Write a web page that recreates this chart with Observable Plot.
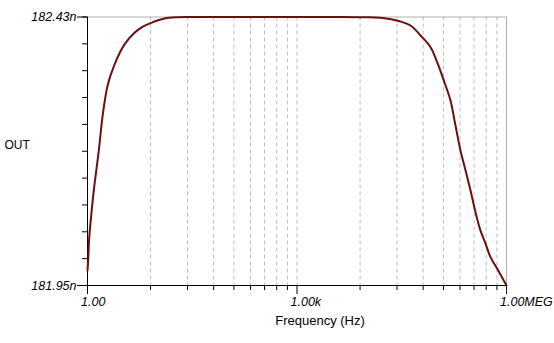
<!DOCTYPE html>
<html><head><meta charset="utf-8">
<script src="https://cdn.jsdelivr.net/npm/d3@7"></script>
<script src="https://cdn.jsdelivr.net/npm/@observablehq/plot@0.6"></script>
<style>body{margin:0;background:#fff}</style>
</head><body><div id="chart"></div>
<script>
// Frequency (Hz) and OUT (n units)
const freq = [1, 1.023, 1.051, 1.079, 1.231, 1.451, 1.656, 1.953, 2.436, 3.388, 4.71, 6.13, 8.17, 12.67, 19.6, 30, 216, 4200, 8960, 15700, 30350, 42250, 58750, 81700, 101900, 126600, 157800, 180200, 219600, 259000, 305300, 359800, 424500, 500900, 590400, 736600, 1000000];
const out = [181.977, 181.995, 182.030, 182.048, 182.120, 182.191, 182.256, 182.309, 182.345, 182.381, 182.402, 182.4125, 182.4196, 182.4273, 182.4296, 182.43, 182.43, 182.43, 182.4295, 182.4286, 182.422, 182.4148, 182.397, 182.376, 182.349, 182.3165, 182.2807, 182.245, 182.191, 182.156, 182.12, 182.081, 182.048, 182.025, 182.0006, 181.980, 181.95];

const xMajor = [1, 1e3, 1e6];
const xMajorLabels = ["1.00", "1.00k", "1.00MEG"];
const xMinor = [8, 27, 64, 125, 216, 343, 512, 729, 8000, 27000, 64000, 125000, 216000, 343000, 512000, 729000];
const xGrid = [8, 27, 64, 125, 216, 343, 512, 729, 1000, 8000, 27000, 64000, 125000, 216000, 343000, 512000, 729000];
const yDomain = [181.95, 182.43];
const yLabels = ["181.95n", "182.43n"];
const yMinor = [181.95, 181.998, 182.046, 182.094, 182.142, 182.19, 182.238, 182.286, 182.334, 182.382, 182.43];
const xTitle = "Frequency (Hz)";
const yTitle = "OUT";

const data = freq.map((f, i) => ({f, v: out[i]}));
const blank = () => "";

const chart = Plot.plot({
  width: 554,
  height: 343,
  marginLeft: 87,
  marginRight: 48,
  marginTop: 16.5,
  marginBottom: 58,
  style: {fontFamily: "'Liberation Sans', Arial, sans-serif", fontSize: "12.5px", background: "#fff", color: "#000"},
  x: {type: "log", domain: [1, 1e6], label: null},
  y: {domain: yDomain, label: null},
  marks: [
    Plot.ruleX(xGrid, {stroke: "#bcbcbc", strokeDasharray: "4,3"}),
    Plot.ruleY([yDomain[1]], {stroke: "#b0b0b0"}),
    Plot.ruleX([1e6], {stroke: "#b0b0b0"}),
    Plot.ruleX([1], {stroke: "#000"}),
    Plot.ruleY([yDomain[0]], {stroke: "#000"}),
    Plot.axisX(xMinor, {tickSize: 5, tickFormat: blank}),
    Plot.axisX(xMajor, {tickSize: 9, tickFormat: blank}),
    Plot.text(xMajor, {x: d => d, text: (d, i) => xMajorLabels[i], frameAnchor: "bottom", dy: 20, dx: -6.5, textAnchor: "start", fontStyle: "italic", fontSize: 12.5}),
    Plot.axisY(yMinor, {tickSize: 5, tickFormat: blank}),
    Plot.axisY(yDomain, {tickSize: 10, tickPadding: 1, tickFormat: (d, i) => yLabels[i], fontStyle: "italic", fontSize: 12.5}),
    Plot.text([yTitle], {text: d => d, frameAnchor: "left", dx: -83, dy: -6, textAnchor: "start", fontSize: 12}),
    Plot.text([xTitle], {text: d => d, frameAnchor: "bottom", dx: 23, dy: 39.5, fontSize: 13}),
    Plot.line(data, {x: "f", y: "v", stroke: "#6b0f0f", strokeWidth: 2, curve: "catmull-rom"})
  ]
});
document.getElementById("chart").append(chart);
</script>
</body></html>
